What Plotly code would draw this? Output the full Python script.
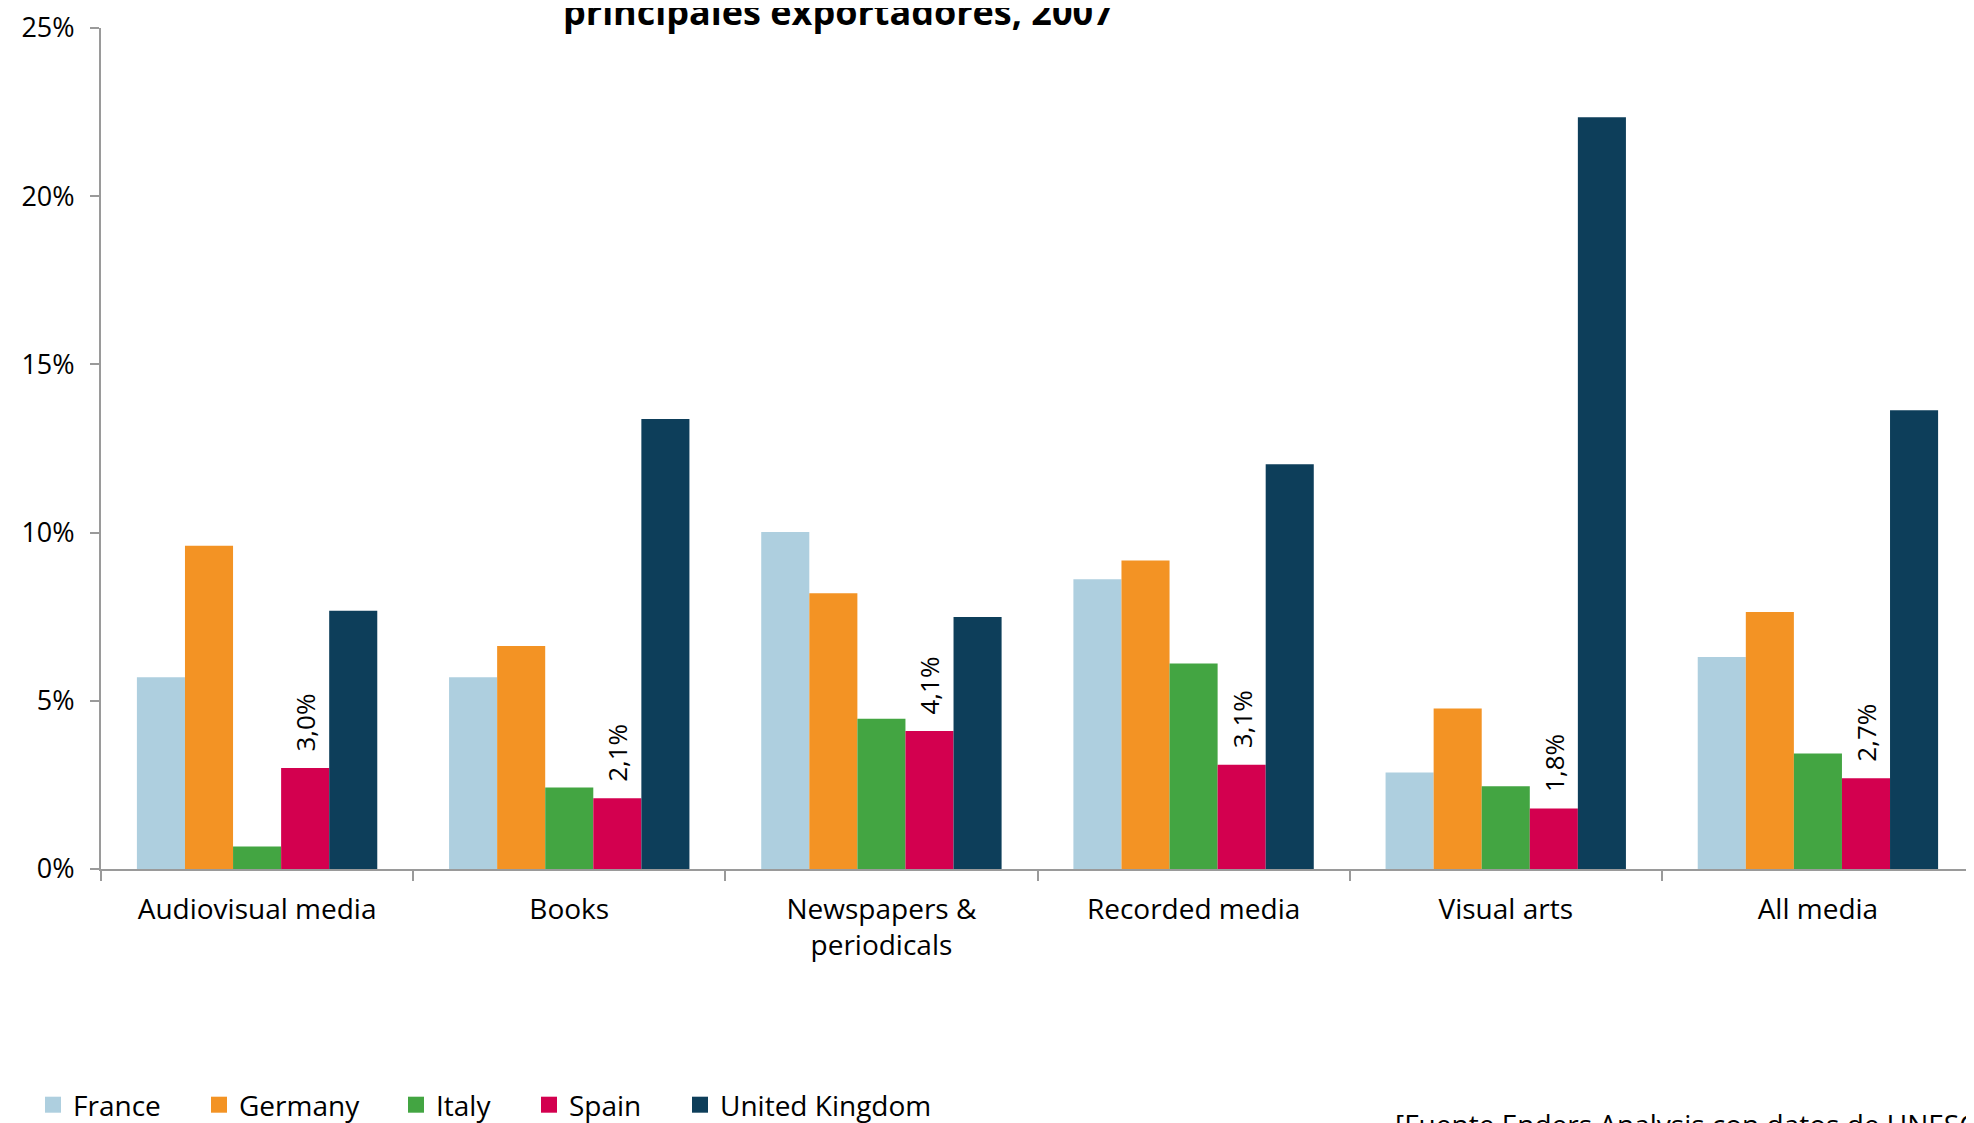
import plotly.graph_objects as go

categories = ["Audiovisual media", "Books", "Newspapers &<br>periodicals", "Recorded media", "Visual arts", "All media"]
france = [5.70, 5.70, 10.02, 8.61, 2.87, 6.30]
germany = [9.61, 6.63, 8.20, 9.17, 4.77, 7.64]
italy = [0.67, 2.42, 4.47, 6.11, 2.46, 3.43]
spain = [3.0, 2.1, 4.1, 3.1, 1.8, 2.7]
uk = [7.68, 13.38, 7.49, 12.03, 22.35, 13.64]
spain_labels = ["3,0%", "2,1%", "4,1%", "3,1%", "1,8%", "2,7%"]
y_ticks = [0, 5, 10, 15, 20, 25]
y_tick_labels = ["0%", "5%", "10%", "15%", "20%", "25%"]

FONT = "'Open Sans', Lato, sans-serif"
W, H = 1966, 1115
series = [
    ("France", france, "#AECFDF"),
    ("Germany", germany, "#F39324"),
    ("Italy", italy, "#43A542"),
    ("Spain", spain, "#D3004F"),
    ("United Kingdom", uk, "#0D3E5A"),
]
# legend text start positions (px, figure coords)
legend_text_x = [65, 231, 428, 561, 712]

NB = "\u00a0"
fig = go.Figure()
layout_legends = {}
for i, (name, vals, col) in enumerate(series):
    kw = {}
    if name == "Spain":
        kw = dict(text=[NB * 2 + s for s in spain_labels], textposition="outside", textangle=-90,
                  textfont=dict(size=26, color="black", family=FONT), cliponaxis=False,
                  constraintext="none")
    lg = "legend" if i == 0 else f"legend{i + 1}"
    fig.add_trace(go.Bar(name=name, x=categories, y=vals, marker=dict(color=col, line=dict(width=0)),
                         showlegend=False, **kw))
    fig.add_trace(go.Scatter(name=name, x=[None], y=[None], mode="markers",
                             marker=dict(symbol="square", size=18, color=col),
                             showlegend=True, legend=lg))
    layout_legends[lg] = dict(orientation="h", xref="container", yref="container",
                              x=(legend_text_x[i] - 40) / W, y=1 - 1097 / H,
                              xanchor="left", yanchor="middle", font=dict(size=28),
                              bgcolor="rgba(0,0,0,0)")

fig.update_layout(
    width=W, height=H,
    barmode="group", bargap=0.23, bargroupgap=0,
    plot_bgcolor="white", paper_bgcolor="white",
    margin=dict(l=93, r=0, t=12, b=254),
    font=dict(family=FONT, size=28, color="black"),
    showlegend=True,
    xaxis=dict(showline=True, linecolor="#9A9A9A", linewidth=2, ticks="outside", tickson="boundaries",
               ticklen=10, tickcolor="#9A9A9A", tickwidth=2, tickfont=dict(size=28),
               ticklabelstandoff=14),
    yaxis=dict(range=[0, 25], tickvals=y_ticks, ticktext=y_tick_labels, showgrid=False, zeroline=False,
               showline=True, linecolor="#9A9A9A", linewidth=2, ticks="outside", ticklen=9,
               tickcolor="#9A9A9A", tickwidth=2, tickfont=dict(size=27), ticklabelstandoff=10,
               ticklabeloverflow="allow"),
    annotations=[
        dict(text="<b>principales exportadores, 2007</b>", xref="paper", yref="paper", x=0.394, y=1,
             xanchor="center", yanchor="bottom", yshift=-10, showarrow=False, font=dict(size=36, family=FONT)),
        dict(text="[Fuente Enders Analysis con datos de UNESCO]", xref="paper", yref="paper", x=0.69, y=0,
             xanchor="left", yanchor="top", yshift=-234, showarrow=False, font=dict(size=28, family=FONT)),
    ],
    **layout_legends,
)

fig.write_html("out.html")
